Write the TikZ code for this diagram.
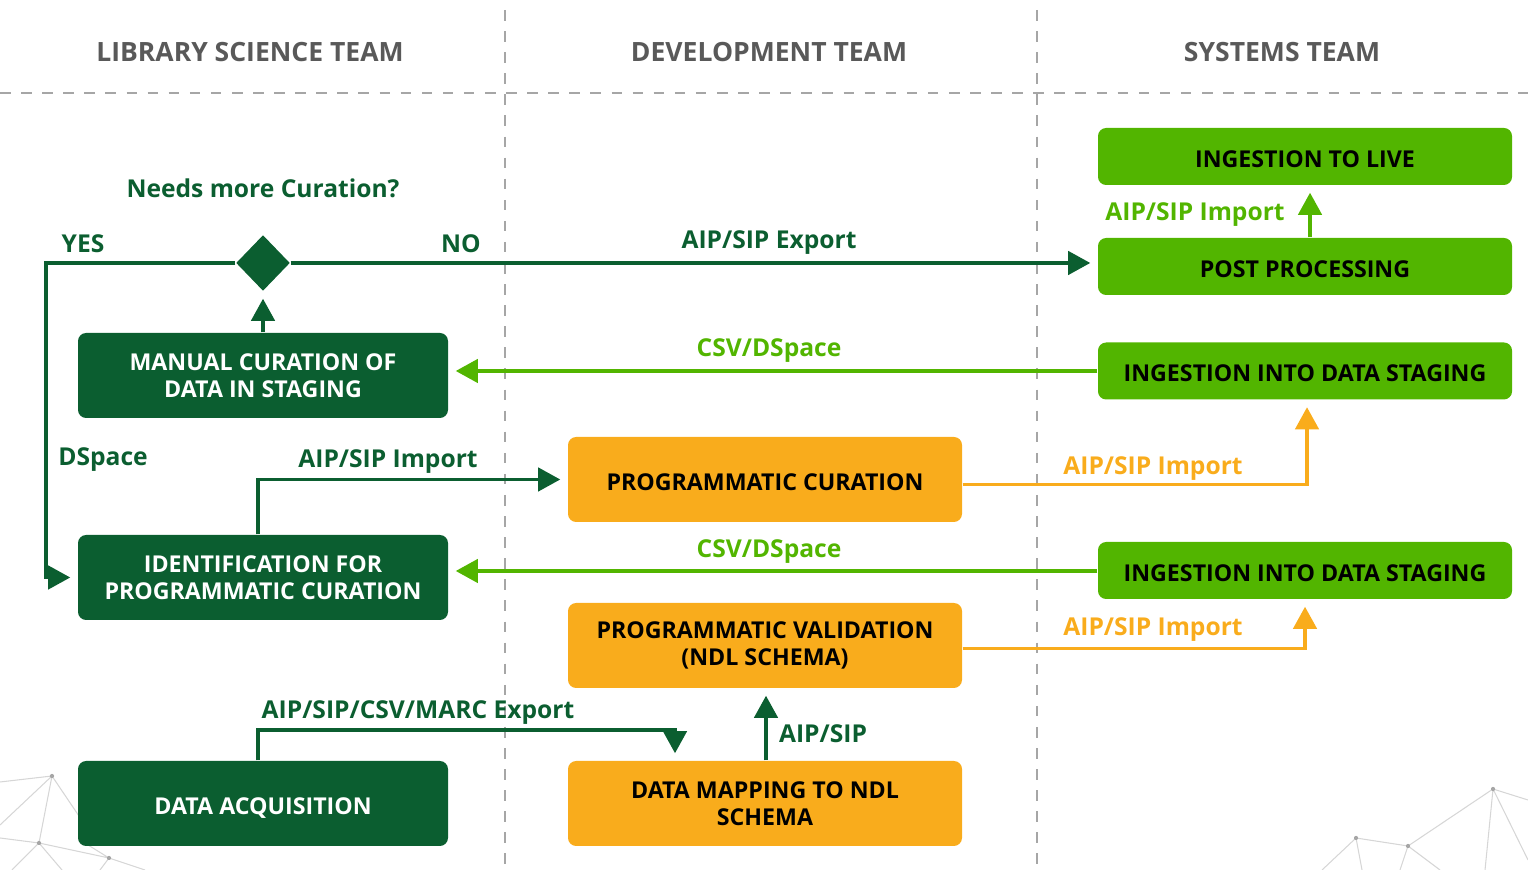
\documentclass[tikz,border=0pt]{standalone}
\usepackage{fontspec}
\setmainfont{Open Sans}
\usetikzlibrary{%
  arrows.meta,
  calc
}
\usetikzlibrary{shapes.geometric}

\definecolor{darkgrn}{HTML}{0B5E30}
\definecolor{litegrn}{HTML}{52B500}
\definecolor{ambr}{HTML}{F9AC1C}
\definecolor{hdrgray}{HTML}{595959}
\definecolor{lanegray}{HTML}{A6A6A6}
\definecolor{netgray}{HTML}{D6D6D6}

\begin{document}
\begin{tikzpicture}[
    font=\bfseries\fontsize{6.6}{7.7}\selectfont,
    box/.style={rectangle, rounded corners=2.3pt, minimum height=0.85cm, align=center, inner sep=0pt},
    oneline/.style={text height=6.2pt, text depth=0pt},
    darkbox/.style={box, fill=darkgrn, text=white, minimum width=3.70cm},
    ambrbox/.style={box, fill=ambr, text=black, minimum width=3.94cm},
    litebox/.style={box, oneline, fill=litegrn, text=black, minimum width=4.14cm, minimum height=0.57cm},
    flow/.style={-{Triangle[length=6.3pt,width=6.6pt]}, line width=1.1pt, shorten >=0.07cm},
    lbl/.style={font=\bfseries\fontsize{7}{8}\selectfont, inner sep=0pt, text depth=0pt},
    team/.style={font=\bfseries\fontsize{7.55}{9}\selectfont, text=hdrgray},
  ]
    \useasboundingbox (0,0) rectangle (15.28,8.70);

    % background network in the corners
    \draw[netgray, line width=0.3pt]
      (0,0.88) -- (0.52,0.94) -- (0.39,0.27) -- (1.09,0.12) -- (1.45,0)
      (0.52,0.94) -- (0,0.45) (0.52,0.94) -- (0.85,0.45)
      (0.39,0.27) -- (0,0.32) (0.39,0.27) -- (0.12,0) (0.39,0.27) -- (0.62,0)
      (1.09,0.12) -- (0.80,0.30) (1.09,0.12) -- (1.00,0);
    \draw[netgray, line width=0.3pt]
      (15.28,0.70) -- (14.93,0.81) -- (14.08,0.24) -- (13.56,0.32) -- (13.22,0)
      (14.93,0.81) -- (14.85,0) (14.93,0.81) -- (15.28,0.10)
      (13.56,0.32) -- (13.62,0) (14.08,0.24) -- (14.00,0) (14.08,0.24) -- (14.40,0);
    \foreach \p in {(0.52,0.94),(0.39,0.27),(1.09,0.12),(14.93,0.81),(14.08,0.24),(13.56,0.32)}
      \fill[gray!70] \p circle (0.6pt);

    % swim lanes
    \draw[lanegray, dashed, line width=0.5pt] (0,7.77) -- (15.28,7.77);
    \draw[lanegray, dashed, line width=0.5pt] (5.05,8.60) -- (5.05,0);
    \draw[lanegray, dashed, line width=0.5pt] (10.37,8.60) -- (10.37,0);

    \node[team] (libteam) at (2.50,8.18) {LIBRARY SCIENCE TEAM};
    \node[team] (devteam) at (7.69,8.18) {DEVELOPMENT TEAM};
    \node[team] (systeam) at (12.82,8.18) {SYSTEMS TEAM};

    % library science team
    \node[darkbox] (manual) at (2.63,4.945) {MANUAL CURATION OF\\DATA IN STAGING};
    \node[darkbox] (ident) at (2.63,2.925) {IDENTIFICATION FOR\\PROGRAMMATIC CURATION};
    \node[darkbox, oneline] (acq) at (2.63,0.665) {DATA ACQUISITION};
    \node[diamond, fill=darkgrn, minimum width=0.54cm, minimum height=0.56cm, inner sep=0pt] (decide) at (2.63,6.07) {};
    \coordinate (yesturn) at (0.46,6.07);

    % development team
    \node[ambrbox, oneline] (progcur) at (7.65,3.905) {PROGRAMMATIC CURATION};
    \node[ambrbox] (progval) at (7.65,2.245) {PROGRAMMATIC VALIDATION\\(NDL SCHEMA)};
    \node[ambrbox] (mapping) at (7.65,0.665) {DATA MAPPING TO NDL\\SCHEMA};

    % systems team
    \node[litebox] (live) at (13.05,7.135) {INGESTION TO LIVE};
    \node[litebox] (post) at (13.05,6.035) {POST PROCESSING};
    \node[litebox] (stagingA) at (13.05,4.99) {INGESTION INTO DATA STAGING};
    \node[litebox] (stagingB) at (13.05,2.995) {INGESTION INTO DATA STAGING};

    % connectors
    \draw[flow, darkgrn] (manual.north) -- (decide.south);
    \draw[flow, darkgrn] (decide.east) -- (decide.east -| post.west);
    \draw[flow, darkgrn] (decide.west) -- (yesturn) |- (ident.west);
    \draw[flow, litegrn] (stagingA.west |- 0,4.99) -- (manual.east |- 0,4.99);
    \draw[flow, darkgrn] ([xshift=-0.05cm]ident.north) |- (progcur.west);
    \draw[flow, ambr] ([yshift=-0.05cm]progcur.east) -| ([xshift=0.02cm]stagingA.south);
    \draw[flow, litegrn] (stagingB.west |- 0,2.99) -- (ident.east |- 0,2.99);
    \draw[flow, ambr] ([yshift=-0.03cm]progval.east) -| (stagingB.south);
    \draw[flow, darkgrn] ([xshift=-0.05cm]acq.north) -- ++(0,0.30) -| ([xshift=-0.90cm]mapping.north);
    \draw[flow, darkgrn] ([xshift=0.01cm]mapping.north) -- ([xshift=0.01cm]progval.south);
    \draw[flow, litegrn] ([xshift=0.05cm]post.north) -- ([xshift=0.05cm]live.south);

    % labels
    \draw (2.63,6.82) node[lbl, darkgrn] (needs) {Needs more Curation?};
    \draw (0.83,6.26) node[lbl, darkgrn] (yes) {YES};
    \draw (4.61,6.26) node[lbl, darkgrn] (no) {NO};
    \draw (7.69,6.30) node[lbl, darkgrn] (aipexp) {AIP/SIP Export};
    \draw (7.69,5.22) node[lbl, litegrn] (csvA) {CSV/DSpace};
    \draw (1.03,4.13) node[lbl, darkgrn] (dspace) {DSpace};
    \draw (3.88,4.11) node[lbl, darkgrn] (impA) {AIP/SIP Import};
    \draw (11.53,4.04) node[lbl, ambr] (impB) {AIP/SIP Import};
    \draw (7.69,3.21) node[lbl, litegrn] (csvB) {CSV/DSpace};
    \draw (11.53,2.43) node[lbl, ambr] (impC) {AIP/SIP Import};
    \draw (4.18,1.60) node[lbl, darkgrn] (marcexp) {AIP/SIP/CSV/MARC Export};
    \draw (8.23,1.36) node[lbl, darkgrn] (aipsip) {AIP/SIP};
    \draw (11.95,6.58) node[lbl, litegrn] (impD) {AIP/SIP Import};
\end{tikzpicture}
\end{document}
